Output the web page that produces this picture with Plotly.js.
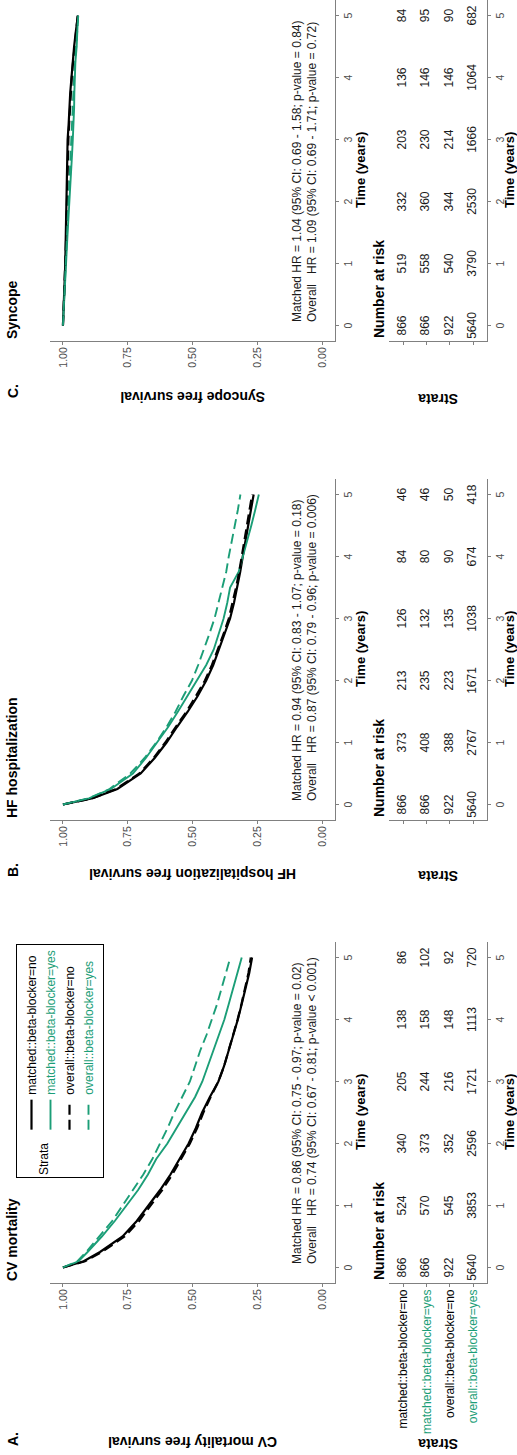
<!DOCTYPE html>
<html><head><meta charset="utf-8">
<script src="https://cdn.plot.ly/plotly-3.0.1.min.js"></script>
<style>
html,body{margin:0;padding:0;background:#fff;overflow:hidden;width:517px;height:1455px;}
#wrap{position:absolute;left:0;top:0;width:1455px;height:517px;transform-origin:0 0;transform:translate(0px,1455px) rotate(-90deg);}
</style></head><body><div id="wrap"></div>
<script>
// ---------------- data ----------------
const time = [0, 0.1, 0.25, 0.5, 0.75, 1, 1.25, 1.5, 1.75, 2, 2.25, 2.5, 2.75, 3, 3.25, 3.5, 3.75, 4, 4.25, 4.5, 4.75, 5];

const cvMatchedNo   = [1.00, 0.92, 0.857, 0.77, 0.715, 0.67, 0.625, 0.585, 0.55, 0.515, 0.487, 0.463, 0.433, 0.40, 0.378, 0.36, 0.34, 0.325, 0.31, 0.295, 0.281, 0.27];
const cvMatchedYes  = [1.00, 0.94, 0.905, 0.85, 0.80, 0.755, 0.71, 0.672, 0.64, 0.597, 0.562, 0.525, 0.49, 0.462, 0.44, 0.42, 0.397, 0.377, 0.36, 0.343, 0.326, 0.31];
const cvOverallNo   = [1.00, 0.915, 0.85, 0.762, 0.706, 0.66, 0.617, 0.578, 0.543, 0.51, 0.482, 0.458, 0.43, 0.40, 0.378, 0.36, 0.342, 0.326, 0.311, 0.297, 0.284, 0.275];
const cvOverallYes  = [1.00, 0.945, 0.91, 0.86, 0.81, 0.77, 0.73, 0.69, 0.655, 0.625, 0.596, 0.57, 0.54, 0.51, 0.49, 0.47, 0.446, 0.424, 0.405, 0.388, 0.37, 0.354];

const hfMatchedNo   = [1.00, 0.885, 0.79, 0.70, 0.646, 0.60, 0.56, 0.518, 0.48, 0.447, 0.42, 0.398, 0.375, 0.355, 0.34, 0.327, 0.316, 0.306, 0.295, 0.285, 0.274, 0.264];
const hfMatchedYes  = [1.00, 0.90, 0.815, 0.73, 0.68, 0.636, 0.594, 0.556, 0.52, 0.482, 0.447, 0.418, 0.398, 0.38, 0.366, 0.355, 0.322, 0.305, 0.29, 0.273, 0.258, 0.244];
const hfOverallNo   = [1.00, 0.887, 0.795, 0.705, 0.65, 0.605, 0.565, 0.523, 0.487, 0.452, 0.425, 0.402, 0.38, 0.36, 0.345, 0.332, 0.32, 0.31, 0.30, 0.29, 0.279, 0.27];
const hfOverallYes  = [1.00, 0.90, 0.82, 0.74, 0.685, 0.64, 0.60, 0.565, 0.535, 0.502, 0.478, 0.455, 0.435, 0.415, 0.40, 0.385, 0.37, 0.36, 0.348, 0.335, 0.325, 0.315];

const synMatchedNo  = [1.000, 0.999, 0.997, 0.995, 0.993, 0.991, 0.990, 0.989, 0.988, 0.986, 0.985, 0.984, 0.983, 0.982, 0.978, 0.976, 0.972, 0.967, 0.963, 0.957, 0.950, 0.942];
const synMatchedYes = [1.000, 0.999, 0.996, 0.993, 0.991, 0.988, 0.985, 0.982, 0.978, 0.975, 0.972, 0.969, 0.965, 0.962, 0.959, 0.957, 0.956, 0.955, 0.952, 0.947, 0.944, 0.942];
const synOverallNo  = [1.000, 0.999, 0.997, 0.994, 0.992, 0.990, 0.989, 0.987, 0.986, 0.984, 0.983, 0.982, 0.981, 0.979, 0.976, 0.973, 0.970, 0.966, 0.961, 0.955, 0.949, 0.943];
const synOverallYes = [1.000, 0.999, 0.996, 0.994, 0.991, 0.989, 0.986, 0.984, 0.981, 0.978, 0.976, 0.973, 0.971, 0.968, 0.965, 0.962, 0.960, 0.957, 0.953, 0.949, 0.945, 0.941];

const riskTimes = [0, 1, 2, 3, 4, 5];
const cvRisk  = [[866, 524, 340, 205, 138, 86], [866, 570, 373, 244, 158, 102], [922, 545, 352, 216, 148, 92], [5640, 3853, 2596, 1721, 1113, 720]];
const hfRisk  = [[866, 373, 213, 126, 84, 46], [866, 408, 235, 132, 80, 46], [922, 388, 223, 135, 90, 50], [5640, 2767, 1671, 1038, 674, 418]];
const synRisk = [[866, 519, 332, 203, 136, 84], [866, 558, 360, 230, 146, 95], [922, 540, 344, 214, 146, 90], [5640, 3790, 2530, 1666, 1064, 682]];

const strataLabels = ["matched::beta-blocker=no", "matched::beta-blocker=yes", "overall::beta-blocker=no", "overall::beta-blocker=yes"];
const panelLetters = ["A.", "B.", "C."];
const panelTitles = ["CV mortality", "HF hospitalization", "Syncope"];
const yTitles = ["CV mortality free survival", "HF hospitalization free survival", "Syncope free survival"];
const hrMatched = ["Matched HR = 0.86 (95% CI: 0.75 - 0.97; p-value = 0.02)", "Matched HR = 0.94 (95% CI: 0.83 - 1.07; p-value = 0.18)", "Matched HR = 1.04 (95% CI: 0.69 - 1.58; p-value = 0.84)"];
const hrOverall = ["Overall\u00A0\u00A0\u00A0HR = 0.74 (95% CI: 0.67 - 0.81; p-value < 0.001)", "Overall\u00A0\u00A0\u00A0HR = 0.87 (95% CI: 0.79 - 0.96; p-value = 0.006)", "Overall\u00A0\u00A0\u00A0HR = 1.09 (95% CI: 0.69 - 1.71; p-value = 0.72)"];
const survTicks = [0, 0.25, 0.5, 0.75, 1];
const survTickText = ["0.00", "0.25", "0.50", "0.75", "1.00"];
const timeTicks = [0, 1, 2, 3, 4, 5];

// ---------------- styling / layout ----------------
const W = 1455, H = 517;
const px = X => X / W, py = Y => 1 - Y / H;
const BLACK = "#000000", GREEN = "#1b9e77";
const strataColors = [BLACK, GREEN, BLACK, GREEN];
const strataDash = ["solid", "solid", "10px,5px", "10px,5px"];
const strataWidth = [2.2, 1.9, 2.2, 1.9];
const FONT = "Liberation Sans, Arial, Helvetica, sans-serif";
const AXC = "#808080", TICKC = "#4d4d4d";

const curves = [
  [cvMatchedNo, cvMatchedYes, cvOverallNo, cvOverallYes],
  [hfMatchedNo, hfMatchedYes, hfOverallNo, hfOverallYes],
  [synMatchedNo, synMatchedYes, synOverallNo, synOverallYes]
];
const risks = [cvRisk, hfRisk, synRisk];
const leftX = [172, 635, 1114];
const plotW = 341;
const letterX = [7, 576, 1055];
const yTitleX = [13, 581, 1058];

const data = [];
const layout = {
  width: W, height: H,
  margin: {l: 0, r: 0, t: 0, b: 0, pad: 0},
  paper_bgcolor: "#fff", plot_bgcolor: "#fff",
  font: {family: FONT, color: "#000", size: 12},
  showlegend: true,
  legend: {
    x: px(277), y: py(16), xanchor: "left", yanchor: "top",
    bgcolor: "#fff", bordercolor: "#000", borderwidth: 1,
    font: {family: FONT, size: 12, color: "#000"},
    title: {text: "<br>Strata", side: "left", font: {family: FONT, size: 12, color: "#000"}},
    itemwidth: 30, tracegroupgap: 0, traceorder: "normal"
  },
  annotations: [],
  hovermode: false
};

function axisBase() {
  return {
    showline: true, linecolor: AXC, linewidth: 1.1,
    ticks: "outside", ticklen: 3, tickcolor: AXC, tickwidth: 1,
    tickfont: {family: FONT, size: 10.5, color: TICKC},
    showgrid: false, zeroline: false, fixedrange: true
  };
}

for (let p = 0; p < 3; p++) {
  const kx = 2 * p + 1, tx = 2 * p + 2;
  const kxName = "xaxis" + (kx === 1 ? "" : kx), kyName = "yaxis" + (kx === 1 ? "" : kx);
  const txName = "xaxis" + tx, tyName = "yaxis" + tx;
  const kxRef = kx === 1 ? "x" : "x" + kx, kyRef = kx === 1 ? "y" : "y" + kx;
  const dom = [px(leftX[p]), px(leftX[p] + plotW)];

  layout[kxName] = Object.assign(axisBase(), {domain: dom, range: [-0.25, 5.25], tickvals: timeTicks, anchor: kyRef});
  layout[kyName] = Object.assign(axisBase(), {domain: [py(335), py(50)], range: [-0.05, 1.05], tickvals: survTicks, ticktext: survTickText, anchor: kxRef});
  layout[txName] = Object.assign(axisBase(), {domain: dom, range: [-0.25, 5.25], tickvals: timeTicks, anchor: "y" + tx});
  layout[tyName] = Object.assign(axisBase(), {
    domain: [py(487), py(389)], range: [4.6, 0.4], tickvals: [1, 2, 3, 4],
    ticktext: p === 0 ? strataLabels.map((s, i) => '<span style="color:' + strataColors[i] + '">' + s + '</span>') : ["", "", "", ""],
    tickfont: {family: FONT, size: 12, color: "#000"},
    anchor: "x" + tx
  });

  // KM curves
  for (let s = 0; s < 4; s++) {
    data.push({
      type: "scatter", mode: "lines", x: time, y: curves[p][s],
      xaxis: kxRef, yaxis: kyRef,
      line: {color: strataColors[s], width: strataWidth[s], dash: strataDash[s], shape: "linear"},
      name: '<span style="color:' + strataColors[s] + '">' + strataLabels[s] + '</span>',
      legendgroup: "g" + s, showlegend: p === 0, hoverinfo: "skip"
    });
  }
  // risk table
  for (let r = 0; r < 4; r++) {
    data.push({
      type: "scatter", mode: "text", x: riskTimes, y: riskTimes.map(() => r + 1),
      text: risks[p][r].map(String), textposition: "middle center",
      textfont: {family: FONT, size: 12, color: "#1a1a1a"},
      xaxis: "x" + tx, yaxis: "y" + tx, showlegend: false, hoverinfo: "skip", cliponaxis: false
    });
  }

  const ann = layout.annotations;
  const cx = leftX[p] + plotW / 2;
  ann.push({text: "<b>" + panelLetters[p] + "</b>", xref: "paper", yref: "paper", x: px(letterX[p]), y: py(13), xanchor: "left", yanchor: "middle", showarrow: false, font: {size: 14}});
  ann.push({text: "<b>" + panelTitles[p] + "</b>", xref: "paper", yref: "paper", x: px(leftX[p]), y: py(12), xanchor: "left", yanchor: "middle", showarrow: false, font: {size: 14}});
  ann.push({text: "<b>" + yTitles[p] + "</b>", xref: "paper", yref: "paper", x: px(yTitleX[p]), y: py(193), xanchor: "center", yanchor: "middle", textangle: -90, showarrow: false, font: {size: 14}});
  ann.push({text: "<b>Time (years)</b>", xref: "paper", yref: "paper", x: px(cx), y: py(360), xanchor: "center", yanchor: "middle", showarrow: false, font: {size: 13}});
  ann.push({text: "<b>Number at risk</b>", xref: "paper", yref: "paper", x: px(leftX[p] + 1), y: py(379), xanchor: "left", yanchor: "middle", showarrow: false, font: {size: 14}});
  ann.push({text: "<b>Time (years)</b>", xref: "paper", yref: "paper", x: px(cx), y: py(509), xanchor: "center", yanchor: "middle", showarrow: false, font: {size: 13}});
  ann.push({text: "<b>Strata</b>", xref: "paper", yref: "paper", x: px(yTitleX[p] - 2), y: py(438), xanchor: "center", yanchor: "middle", textangle: -90, showarrow: false, font: {size: 14}});
  ann.push({text: hrMatched[p], xref: kxRef, yref: kyRef, x: 0.03, y: 0.0965, xanchor: "left", yanchor: "middle", showarrow: false, font: {size: 12, color: "#1a1a1a"}});
  ann.push({text: hrOverall[p], xref: kxRef, yref: kyRef, x: 0.03, y: 0.037, xanchor: "left", yanchor: "middle", showarrow: false, font: {size: 12, color: "#1a1a1a"}});
}

Plotly.newPlot("wrap", data, layout, {displayModeBar: false, staticPlot: true, responsive: false});
</script></body></html>
